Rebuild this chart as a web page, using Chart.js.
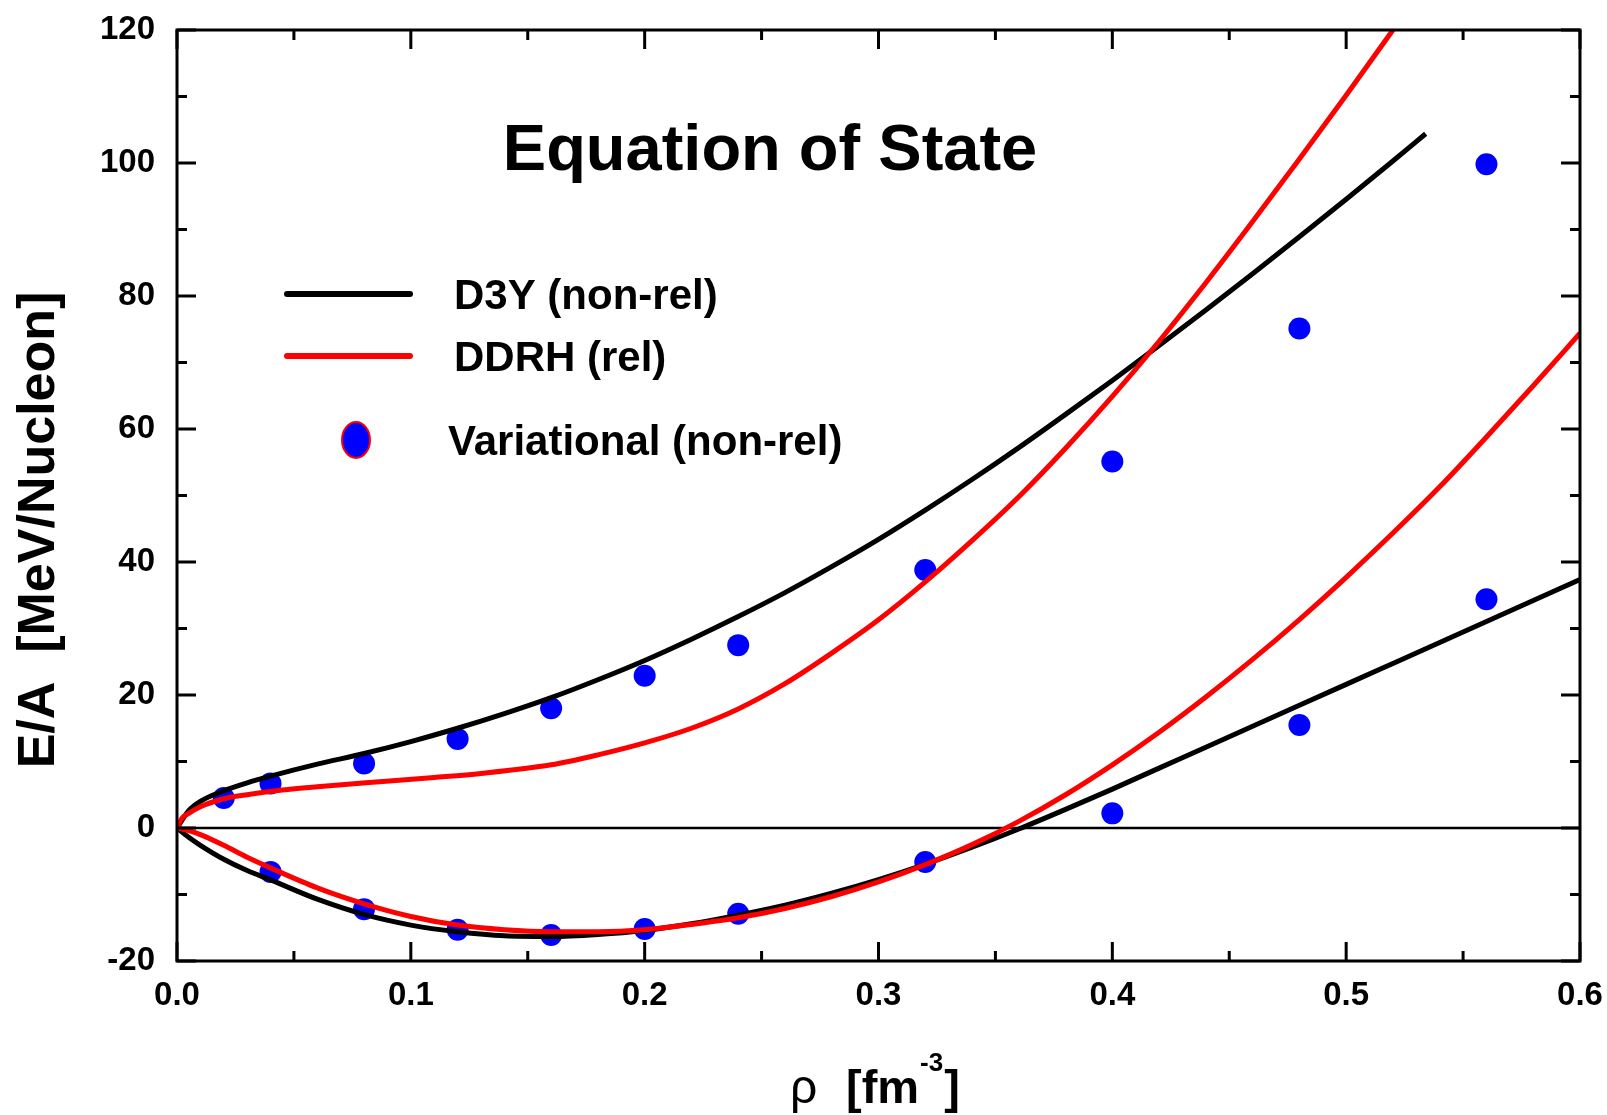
<!DOCTYPE html>
<html>
<head>
<meta charset="utf-8">
<title>Equation of State</title>
<script src="https://cdn.jsdelivr.net/npm/chart.js@4.4.1/dist/chart.umd.min.js"></script>
<style>
  html, body { margin: 0; padding: 0; background: #fff; }
  canvas { display: block; }
</style>
</head>
<body>
<canvas id="eosChart" width="1607" height="1115"></canvas>
<script>
// D3Y (non-rel), neutron matter (upper) and symmetric matter (lower)
const d3yNeutronRho = [0, 0.005, 0.01, 0.02, 0.03, 0.04, 0.06, 0.08, 0.10, 0.12, 0.14, 0.16, 0.18, 0.20, 0.22, 0.24, 0.26, 0.28, 0.30, 0.32, 0.34, 0.36, 0.38, 0.40, 0.42, 0.44, 0.46, 0.48, 0.50, 0.52, 0.534];
const d3yNeutronEA  = [0, 2.6, 4.0, 5.6, 6.8, 7.8, 9.6, 11.2, 13.0, 15.0, 17.2, 19.6, 22.3, 25.2, 28.4, 31.8, 35.4, 39.3, 43.4, 47.8, 52.4, 57.2, 62.2, 67.3, 72.55, 77.9, 83.35, 88.9, 94.55, 100.3, 104.4];

const d3ySymRho = [0, 0.005, 0.01, 0.02, 0.03, 0.04, 0.06, 0.08, 0.10, 0.12, 0.14, 0.16, 0.18, 0.20, 0.22, 0.24, 0.26, 0.28, 0.30, 0.32, 0.34, 0.36, 0.38, 0.40, 0.42, 0.44, 0.46, 0.48, 0.50, 0.52, 0.54, 0.56, 0.58, 0.60];
const d3ySymEA  = [0, -1.4, -2.6, -4.7, -6.4, -7.8, -10.7, -13.0, -14.6, -15.6, -16.2, -16.3, -16.0, -15.4, -14.4, -13.1, -11.6, -9.8, -7.75, -5.45, -2.9, -0.15, 2.8, 5.85, 9.0, 12.15, 15.3, 18.45, 21.6, 24.75, 27.9, 31.05, 34.2, 37.35];

// DDRH (rel)
const ddrhNeutronRho = [0, 0.002, 0.005, 0.01, 0.02, 0.03, 0.045, 0.06, 0.088, 0.11, 0.13, 0.16, 0.18, 0.20, 0.22, 0.24, 0.26, 0.28, 0.30, 0.32, 0.34, 0.36, 0.38, 0.40, 0.42, 0.44, 0.46, 0.48, 0.50, 0.52];
const ddrhNeutronEA  = [0, 1.4, 2.2, 3.2, 4.4, 5.0, 5.7, 6.2, 7.0, 7.6, 8.2, 9.5, 11.0, 12.8, 15.0, 17.9, 21.7, 26.3, 31.3, 37.0, 43.2, 49.8, 57.1, 64.9, 73.2, 82.0, 91.2, 100.6, 110.2, 120];

const ddrhSymRho = [0, 0.005, 0.01, 0.02, 0.03, 0.04, 0.06, 0.08, 0.10, 0.12, 0.14, 0.16, 0.18, 0.20, 0.22, 0.24, 0.26, 0.28, 0.30, 0.32, 0.34, 0.36, 0.38, 0.40, 0.42, 0.44, 0.46, 0.48, 0.50, 0.52, 0.54, 0.56, 0.58, 0.60];
const ddrhSymEA  = [0, -0.4, -1.0, -2.6, -4.4, -6.0, -9.0, -11.4, -13.3, -14.6, -15.3, -15.6, -15.6, -15.3, -14.5, -13.5, -12.1, -10.3, -8.1, -5.5, -2.5, 1.0, 5.0, 9.5, 14.4, 19.7, 25.35, 31.35, 37.7, 44.35, 51.3, 58.8, 66.5, 74.4];

// Variational (non-rel) points
const varNeutronRho = [0.02, 0.04, 0.08, 0.12, 0.16, 0.20, 0.24, 0.32, 0.40, 0.48, 0.56];
const varNeutronEA  = [4.5, 6.7, 9.7, 13.4, 18.0, 22.9, 27.5, 38.8, 55.1, 75.1, 99.8];
const varSymRho = [0.04, 0.08, 0.12, 0.16, 0.20, 0.24, 0.32, 0.40, 0.48, 0.56];
const varSymEA  = [-6.6, -12.2, -15.3, -16.1, -15.2, -12.9, -5.1, 2.2, 15.5, 34.4];

const xTicks = [0.0, 0.1, 0.2, 0.3, 0.4, 0.5, 0.6];
const yTicks = [-20, 0, 20, 40, 60, 80, 100, 120];

const FONT = '"Liberation Sans", Arial, Helvetica, sans-serif';

function pts(xs, ys) {
  return xs.map((x, i) => ({ x: x, y: ys[i] }));
}

function curve(label, xs, ys, color) {
  return {
    type: 'line', label: label, data: pts(xs, ys),
    borderColor: color, backgroundColor: color, borderWidth: 5,
    pointRadius: 0, cubicInterpolationMode: 'monotone', fill: false
  };
}

function dots(label, xs, ys) {
  return {
    type: 'scatter', label: label, data: pts(xs, ys),
    backgroundColor: '#0000ff', borderColor: '#0000ff', borderWidth: 0,
    pointRadius: 11, showLine: false
  };
}

// frame, inward ticks on all 4 sides, zero line
const frameTicks = {
  id: 'frameTicks',
  beforeDatasetsDraw(chart) {
    const { ctx, chartArea: a, scales } = chart;
    const y0 = scales.y.getPixelForValue(0);
    ctx.save();
    ctx.strokeStyle = '#000';
    ctx.lineWidth = 2.5;
    ctx.beginPath();
    ctx.moveTo(a.left, y0);
    ctx.lineTo(a.right, y0);
    ctx.stroke();
    ctx.restore();
  },
  afterDraw(chart) {
    const { ctx, chartArea: a, scales } = chart;
    ctx.save();
    ctx.strokeStyle = '#000';
    ctx.lineWidth = 3;
    ctx.strokeRect(a.left, a.top, a.right - a.left, a.bottom - a.top);
    for (let i = 0; i <= 12; i++) {
      const px = scales.x.getPixelForValue(i * 0.05);
      const len = i % 2 === 0 ? 19 : 10;
      ctx.beginPath();
      ctx.moveTo(px, a.bottom); ctx.lineTo(px, a.bottom - len);
      ctx.moveTo(px, a.top); ctx.lineTo(px, a.top + len);
      ctx.stroke();
    }
    for (let v = -20; v <= 120; v += 10) {
      const py = scales.y.getPixelForValue(v);
      const len = v % 20 === 0 ? 19 : 10;
      ctx.beginPath();
      ctx.moveTo(a.left, py); ctx.lineTo(a.left + len, py);
      ctx.moveTo(a.right, py); ctx.lineTo(a.right - len, py);
      ctx.stroke();
    }
    ctx.restore();
  }
};

// title, axis titles, legend drawn inside the plot
const annotations = {
  id: 'annotations',
  afterDraw(chart) {
    const ctx = chart.ctx;
    const ds = chart.data.datasets;
    ctx.save();
    ctx.fillStyle = '#000';

    ctx.font = 'bold 65px ' + FONT;
    ctx.textAlign = 'center';
    ctx.textBaseline = 'alphabetic';
    ctx.fillText('Equation of State', 770, 170);

    // y axis title
    ctx.save();
    ctx.translate(40, 530);
    ctx.rotate(-Math.PI / 2);
    ctx.font = 'bold 52px ' + FONT;
    ctx.textAlign = 'center';
    ctx.textBaseline = 'middle';
    ctx.fillText('E/A  [MeV/Nucleon]', 0, 0);
    ctx.restore();

    // x axis title: rho [fm^-3]
    ctx.textAlign = 'left';
    ctx.textBaseline = 'alphabetic';
    ctx.font = '48px ' + FONT;
    ctx.fillText('ρ', 790, 1103);
    ctx.font = 'bold 47px ' + FONT;
    ctx.fillText('[fm', 846, 1103);
    let xx = 846 + ctx.measureText('[fm').width;
    ctx.font = 'bold 26px ' + FONT;
    ctx.fillText('-3', xx + 1, 1071);
    xx += ctx.measureText('-3').width + 2;
    ctx.font = 'bold 47px ' + FONT;
    ctx.fillText(']', xx, 1103);

    // legend
    const items = [
      { ds: ds[2], y: 294, tx: 454 },
      { ds: ds[0], y: 356, tx: 454 },
      { ds: ds[4], y: 440, tx: 448 }
    ];
    ctx.font = 'bold 42px ' + FONT;
    items.forEach(it => {
      if (it.ds.type === 'line') {
        ctx.strokeStyle = it.ds.borderColor;
        ctx.lineWidth = 6;
        ctx.lineCap = 'round';
        ctx.beginPath();
        ctx.moveTo(287, it.y); ctx.lineTo(410, it.y);
        ctx.stroke();
      } else {
        ctx.beginPath();
        ctx.ellipse(356, it.y, 14, 18, 0, 0, Math.PI * 2);
        ctx.fillStyle = it.ds.backgroundColor;
        ctx.fill();
        ctx.lineWidth = 2;
        ctx.strokeStyle = '#ff0000';
        ctx.stroke();
      }
      ctx.fillStyle = '#000';
      ctx.fillText(it.ds.label, it.tx, it.y + 15);
    });
    ctx.restore();
  }
};

const chart = new Chart(document.getElementById('eosChart').getContext('2d'), {
  type: 'scatter',
  data: {
    datasets: [
      curve('DDRH (rel)', ddrhNeutronRho, ddrhNeutronEA, '#ff0000'),
      curve('DDRH (rel)', ddrhSymRho, ddrhSymEA, '#ff0000'),
      curve('D3Y (non-rel)', d3yNeutronRho, d3yNeutronEA, '#000000'),
      curve('D3Y (non-rel)', d3ySymRho, d3ySymEA, '#000000'),
      dots('Variational (non-rel)', varNeutronRho, varNeutronEA),
      dots('Variational (non-rel)', varSymRho, varSymEA)
    ]
  },
  options: {
    responsive: false,
    animation: false,
    layout: { padding: { left: 0, right: 27, top: 30, bottom: 0 } },
    plugins: {
      legend: { display: false },
      tooltip: { enabled: false },
      title: { display: false }
    },
    scales: {
      x: {
        type: 'linear', min: 0, max: 0.6,
        afterBuildTicks: s => { s.ticks = xTicks.map(v => ({ value: v })); },
        afterFit: s => { s.height = 154; s.paddingLeft = 0; s.paddingRight = 0; },
        grid: { display: false, drawTicks: false },
        border: { display: false },
        ticks: {
          padding: 15, color: '#000',
          font: { family: FONT, size: 33, weight: 'bold' },
          callback: v => v.toFixed(1)
        }
      },
      y: {
        type: 'linear', min: -20, max: 120,
        afterBuildTicks: s => { s.ticks = yTicks.map(v => ({ value: v })); },
        afterFit: s => { s.width = 177; s.paddingTop = 0; s.paddingBottom = 0; },
        grid: { display: false, drawTicks: false },
        border: { display: false },
        ticks: {
          padding: 22, color: '#000',
          font: { family: FONT, size: 33, weight: 'bold' },
          callback: v => String(v)
        }
      }
    }
  },
  plugins: [frameTicks, annotations]
});
</script>
</body>
</html>
